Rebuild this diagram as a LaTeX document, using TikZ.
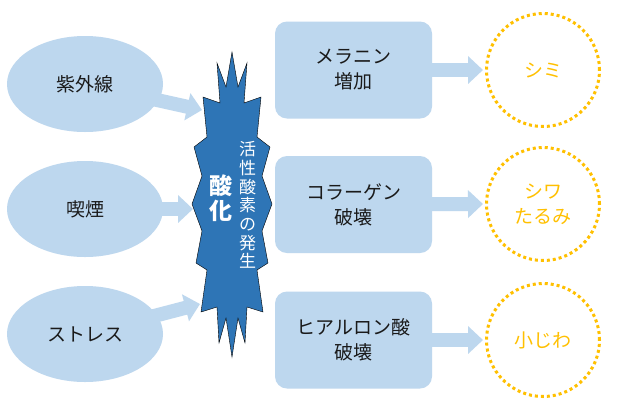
\documentclass[tikz,border=0pt]{standalone}
\usepackage{fontspec}
\setmainfont{Noto Sans CJK JP}
\usetikzlibrary{shapes.geometric,arrows.meta}
\pgfdeclarelayer{bottom}
\pgfdeclarelayer{background}
\pgfsetlayers{bottom,background,main}
\definecolor{lightblue}{HTML}{BDD7EE}
\definecolor{darkblue}{HTML}{2E75B6}
\definecolor{gold}{HTML}{FFC000}
\definecolor{ink}{HTML}{1A1A1A}
\begin{document}
\begin{tikzpicture}[x=1pt,y=-1pt,
  txt/.style={font=\fontsize{19}{25}\selectfont},
  cause/.style={ellipse, fill=lightblue, minimum width=156pt, minimum height=96pt, inner sep=0pt, text=ink, txt},
  effect/.style={rectangle, rounded corners=12pt, fill=lightblue, minimum width=157pt, minimum height=97pt, inner sep=0pt, align=center, text=ink, txt},
  result/.style={circle, draw=gold, line width=3pt, dash pattern=on 3pt off 3pt, minimum size=113pt, inner sep=0pt, align=center, text=gold, txt},
  blockarrow/.style={draw=lightblue, line width=14pt, -{Triangle[width=27pt,length=15pt]}},
  burst/.style={fill=darkblue},
  bursttext/.style={text=white, align=center, inner sep=0pt}
]
\begin{pgfonlayer}{bottom}
\fill[white] (0,0) rectangle (620,408);
\end{pgfonlayer}
\useasboundingbox (0,0) rectangle (620,408);

% causes
\node[cause] (e1) at (85,84) {紫外線};
\node[cause] (e2) at (85,209) {喫煙};
\node[cause] (e3) at (85,334) {ストレス};

% burst
\draw[burst] (232,52) -- (238,87) -- (247,63) -- (244,103) -- (261,97) -- (257,137)
  -- (270,147) -- (262,176) -- (272,204) -- (262,231) -- (268,263) -- (257,270)
  -- (263,312) -- (247,307) -- (245,343) -- (238,318) -- (232,357)
  -- (226,318) -- (219,343) -- (217,307) -- (201,312) -- (207,270) -- (196,263)
  -- (202,231) -- (192,204) -- (202,176) -- (194,147) -- (207,137) -- (203,97)
  -- (220,103) -- (217,63) -- (226,87) -- cycle;
\node[bursttext, font=\fontsize{17}{18.7}\selectfont] (active) at (247.5,205) {活\\性\\酸\\素\\の\\発\\生};
\node[bursttext, font=\bfseries\fontsize{23}{25}\selectfont] (oxid) at (221,198) {酸\\化};

\coordinate (b1) at (202,110);
\coordinate (b2) at (193,209);
\coordinate (b3) at (200,304);

% effects
\node[effect] (m1) at (353.5,70) {メラニン\\増加};
\node[effect] (m2) at (353.5,204.5) {コラーゲン\\破壊};
\node[effect] (m3) at (353.5,340) {ヒアルロン酸\\破壊};

% results
\node[result] (r1) at (543,70) {シミ};
\node[result] (r2) at (543,204) {シワ\\たるみ};
\node[result] (r3) at (543,340) {小じわ};

\begin{pgfonlayer}{background}
\draw[blockarrow] (e1.center) -- (b1);
\draw[blockarrow] (e2.center) -- (b2);
\draw[blockarrow] (e3.center) -- (b3);
\draw[blockarrow, shorten >=2pt] (m1.center) -- (r1.west);
\draw[blockarrow, shorten >=2pt] (m2.center) -- (r2.west);
\draw[blockarrow, shorten >=2pt] (m3.center) -- (r3.west);
\end{pgfonlayer}
\end{tikzpicture}
\end{document}
